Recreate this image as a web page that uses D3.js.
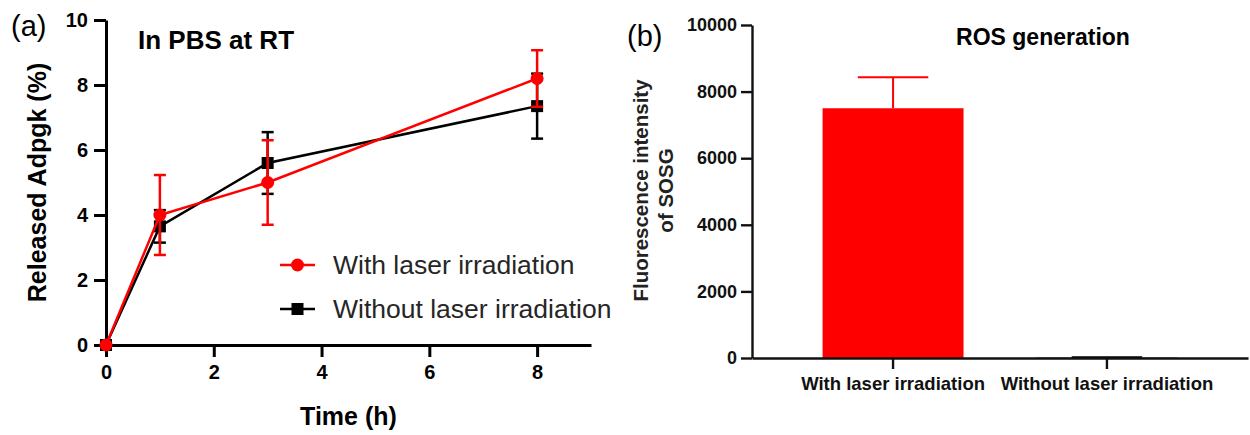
<!DOCTYPE html>
<html>
<head>
<meta charset="utf-8">
<script src="https://cdn.jsdelivr.net/npm/d3@7"></script>
<style>
  body { margin: 0; background: #fff; }
  svg { display: block; font-family: "Liberation Sans", Arial, sans-serif; }
</style>
</head>
<body>
<svg width="1250" height="435"></svg>
<script>
// panel (a): release over time
const times = [0, 1, 3, 8];
const withLaser = [0, 4.0, 5.0, 8.2];
const withLaserErr = [0, 1.23, 1.3, 0.87];
const withoutLaser = [0, 3.65, 5.6, 7.35];
const withoutLaserErr = [0, 0.5, 0.95, 1.0];
const xTicksA = [0, 2, 4, 6, 8];
const yTicksA = [0, 2, 4, 6, 8, 10];

// panel (b): ROS generation
const groups = ["With laser irradiation", "Without laser irradiation"];
const rosValues = [7500, 10];
const rosErr = [930, 15];
const yTicksB = [0, 2000, 4000, 6000, 8000, 10000];

const svg = d3.select("svg");
const red = "#ff0000";

// ---------- panel (a) ----------
const xA = d3.scaleLinear().domain([0, 9]).range([106, 591]);
const yA = d3.scaleLinear().domain([0, 10]).range([345, 20]);

const axA = svg.append("g");
axA.append("g")
  .attr("transform", `translate(0,${yA(0)})`)
  .call(d3.axisBottom(xA).tickValues(xTicksA).tickSize(12).tickSizeOuter(0).tickPadding(8))
  .call(g => g.selectAll("text").style("font-size", "20px").style("font-weight", "bold").attr("fill", "#000"));
axA.append("g")
  .attr("transform", `translate(${xA(0)},0)`)
  .call(d3.axisLeft(yA).tickValues(yTicksA).tickSize(12).tickSizeOuter(0).tickPadding(6))
  .call(g => g.selectAll("text").style("font-size", "20px").style("font-weight", "bold").attr("fill", "#000"));
axA.selectAll("path.domain, .tick line").attr("stroke", "#000").attr("stroke-width", 3);
axA.selectAll("text").attr("font-family", null);

svg.append("text")
  .attr("x", (xA(0) + xA(9)) / 2).attr("y", 425)
  .attr("text-anchor", "middle")
  .style("font-size", "25px").style("font-weight", "bold")
  .text("Time (h)");

svg.append("text")
  .attr("transform", `translate(46,${(yA(0) + yA(10)) / 2}) rotate(-90)`)
  .attr("text-anchor", "middle")
  .style("font-size", "25px").style("font-weight", "bold")
  .text("Released Adpgk (%)");

svg.append("text")
  .attr("x", 138).attr("y", 49)
  .style("font-size", "26px").style("font-weight", "bold")
  .text("In PBS at RT");

svg.append("text")
  .attr("x", 11).attr("y", 36)
  .style("font-size", "29px")
  .text("(a)");

const line = d3.line().x(d => xA(d.t)).y(d => yA(d.v));

function drawSeries(vals, errs, color, marker) {
  const pts = times.map((t, i) => ({t, v: vals[i], e: errs[i]}));
  const g = svg.append("g");
  g.append("path").datum(pts)
    .attr("fill", "none").attr("stroke", color).attr("stroke-width", 2.5)
    .attr("d", line);
  const eb = g.selectAll(".err").data(pts.filter(d => d.e > 0)).enter().append("g");
  eb.append("line")
    .attr("x1", d => xA(d.t)).attr("x2", d => xA(d.t))
    .attr("y1", d => yA(d.v - d.e)).attr("y2", d => yA(d.v + d.e))
    .attr("stroke", color).attr("stroke-width", 2.5);
  [-1, 1].forEach(s => {
    eb.append("line")
      .attr("x1", d => xA(d.t) - 6).attr("x2", d => xA(d.t) + 6)
      .attr("y1", d => yA(d.v + s * d.e)).attr("y2", d => yA(d.v + s * d.e))
      .attr("stroke", color).attr("stroke-width", 2.5);
  });
  if (marker === "circle") {
    g.selectAll(".m").data(pts).enter().append("circle")
      .attr("cx", d => xA(d.t)).attr("cy", d => yA(d.v)).attr("r", 6.5).attr("fill", color);
  } else {
    g.selectAll(".m").data(pts).enter().append("rect")
      .attr("x", d => xA(d.t) - 6).attr("y", d => yA(d.v) - 6)
      .attr("width", 12).attr("height", 12).attr("fill", color);
  }
}
drawSeries(withoutLaser, withoutLaserErr, "#000", "square");
drawSeries(withLaser, withLaserErr, red, "circle");

// legend
const legend = [
  {label: "With laser irradiation", color: red, marker: "circle", y: 265},
  {label: "Without laser irradiation", color: "#000", marker: "square", y: 309}
];
legend.forEach(d => {
  const g = svg.append("g");
  g.append("line").attr("x1", 280).attr("x2", 315).attr("y1", d.y).attr("y2", d.y)
    .attr("stroke", d.color).attr("stroke-width", 2.5);
  if (d.marker === "circle") g.append("circle").attr("cx", 297.5).attr("cy", d.y).attr("r", 6.5).attr("fill", d.color);
  else g.append("rect").attr("x", 291.5).attr("y", d.y - 6).attr("width", 12).attr("height", 12).attr("fill", d.color);
  g.append("text").attr("x", 333).attr("y", d.y + 9)
    .style("font-size", "26.5px").attr("fill", "#262626").text(d.label);
});

// ---------- panel (b) ----------
const xB = d3.scaleBand().domain(groups).range([752, 1248]).paddingInner(0.341).paddingOuter(0.33);
const yB = d3.scaleLinear().domain([0, 10000]).range([358, 25]);

svg.append("g").selectAll("rect").data(groups).enter().append("rect")
  .attr("x", d => xB(d)).attr("width", xB.bandwidth())
  .attr("y", (d, i) => yB(rosValues[i]))
  .attr("height", (d, i) => yB(0) - yB(rosValues[i]))
  .attr("fill", (d, i) => i === 0 ? red : "#000");

const ebB = svg.append("g").selectAll("g").data(groups).enter().append("g");
ebB.append("line")
  .attr("x1", d => xB(d) + xB.bandwidth() / 2).attr("x2", d => xB(d) + xB.bandwidth() / 2)
  .attr("y1", (d, i) => yB(rosValues[i])).attr("y2", (d, i) => yB(rosValues[i] + rosErr[i]))
  .attr("stroke", (d, i) => i === 0 ? red : "#000").attr("stroke-width", 2);
ebB.append("line")
  .attr("x1", d => xB(d) + xB.bandwidth() / 4).attr("x2", d => xB(d) + xB.bandwidth() * 3 / 4)
  .attr("y1", (d, i) => yB(rosValues[i] + rosErr[i])).attr("y2", (d, i) => yB(rosValues[i] + rosErr[i]))
  .attr("stroke", (d, i) => i === 0 ? red : "#000").attr("stroke-width", 2);

const axB = svg.append("g");
axB.append("g")
  .attr("transform", `translate(0,${yB(0)})`)
  .call(d3.axisBottom(xB).tickSize(11).tickSizeOuter(0).tickPadding(8))
  .call(g => g.selectAll("text").style("font-size", "18.5px").style("font-weight", "bold").attr("fill", "#111"));
axB.append("g")
  .attr("transform", "translate(752,0)")
  .call(d3.axisLeft(yB).tickValues(yTicksB).tickFormat(d3.format("d")).tickSize(11).tickSizeOuter(0).tickPadding(4))
  .call(g => g.selectAll("text").style("font-size", "18px").style("font-weight", "bold").attr("fill", "#111"));
axB.selectAll("path.domain, .tick line").attr("stroke", "#111").attr("stroke-width", 2.4);
axB.selectAll("text").attr("font-family", null);

const yTitle = svg.append("text")
  .attr("transform", `translate(651,${(yB(0) + yB(10000)) / 2 - 1}) rotate(-90)`)
  .attr("text-anchor", "middle")
  .style("font-size", "20.5px").style("font-weight", "bold").attr("fill", "#222");
yTitle.append("tspan").attr("x", 0).attr("dy", "-0.15em").text("Fluorescence intensity");
yTitle.append("tspan").attr("x", 0).attr("dy", "1.2em").text("of SOSG");

svg.append("text")
  .attr("x", 1043).attr("y", 45)
  .attr("text-anchor", "middle")
  .style("font-size", "23px").style("font-weight", "bold")
  .text("ROS generation");

svg.append("text")
  .attr("x", 627).attr("y", 46)
  .style("font-size", "29px")
  .text("(b)");
</script>
</body>
</html>
